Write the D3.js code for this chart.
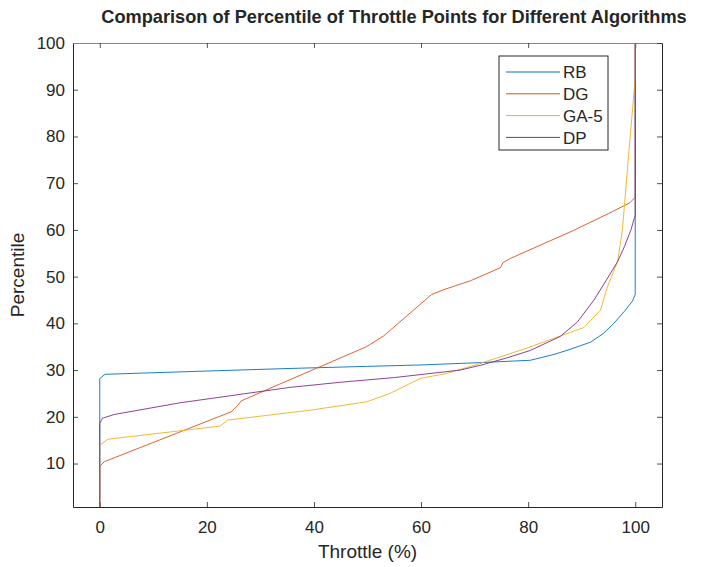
<!DOCTYPE html>
<html>
<head>
<meta charset="utf-8">
<script src="https://cdn.jsdelivr.net/npm/d3@7"></script>
<style>
  body { margin: 0; background: #fff; }
  text { font-family: "Liberation Sans", Arial, sans-serif; fill: #262626; }
</style>
</head>
<body>
<svg id="chart" width="706" height="567"></svg>
<script>
// series: [throttle %, percentile]
var seriesNames = ["RB", "DG", "GA-5", "DP"];
var seriesColors = ["#0072BD", "#D95319", "#EDB120", "#7E2F8E"];

var rbPoints = [
  [0, 0.7], [0, 28.2], [1.0, 29.1], [20, 29.8], [35.5, 30.35], [50, 30.8],
  [60, 31.1], [71, 31.6], [80.4, 32.1], [85, 33.4], [88, 34.5], [91.7, 36],
  [94, 37.8], [96, 40], [98, 42.6], [99.5, 44.8], [100, 46.2], [100, 100]
];
var dgPoints = [
  [0, 0.7], [0, 9.4], [0.85, 10.4], [24.6, 21.1], [25.8, 22.5], [26.4, 23.4],
  [33.6, 27.0], [49.8, 35.0], [53, 37.3], [62, 46.2], [64.2, 47.2], [69.2, 49.1],
  [74.8, 51.9], [75.3, 53.0], [76.7, 53.9], [88.5, 59.9], [95, 63.5], [99, 65.8],
  [100, 67], [100, 100]
];
var gaPoints = [
  [0, 0.7], [0, 13.9], [1.5, 15.2], [22.4, 18.0], [23.9, 19.3], [35.5, 20.9],
  [39.2, 21.4], [49.8, 23.2], [54.2, 25], [59.8, 28.2], [64.8, 29.3], [71, 31.4],
  [80, 34.8], [86, 37.3], [90.4, 39.1], [93.5, 42.8], [94.8, 47.8], [96.7, 53.2],
  [97.6, 60], [99, 79.2], [100, 92.4], [100, 100]
];
var dpPoints = [
  [0, 0.7], [0, 18.6], [0.5, 19.7], [2.7, 20.5], [15, 23.0], [35.5, 26.3],
  [45, 27.4], [55, 28.4], [67.3, 30.0], [71, 31.0], [76, 32.6], [80.4, 34.2],
  [86, 37.2], [89.2, 40.3], [92.3, 45], [94.2, 48.5], [96.7, 53.2], [98, 56.5],
  [99.2, 60], [99.8, 62.4], [100, 63], [100, 100]
];
var allSeries = [rbPoints, dgPoints, gaPoints, dpPoints];

var xTicks = [0, 20, 40, 60, 80, 100];
var yTicks = [10, 20, 30, 40, 50, 60, 70, 80, 90, 100];
var xDomain = [-5, 105];
var yDomain = [0.7, 100];

var titleText = "Comparison of Percentile of Throttle Points for Different Algorithms";
var xLabel = "Throttle (%)";
var yLabel = "Percentile";

var margin = { left: 73, right: 44, top: 43, bottom: 60 };
var width = 706, height = 567;

var svg = d3.select("#chart");

var x = d3.scaleLinear().domain(xDomain).range([margin.left, width - margin.right]);
var y = d3.scaleLinear().domain(yDomain).range([height - margin.bottom, margin.top]);

var axisColor = "#262626";
var tickLen = 5;

// axes (MATLAB style box with inward ticks)
var axBottom = svg.append("g")
  .attr("transform", "translate(0," + y.range()[0] + ")")
  .call(d3.axisBottom(x).tickValues(xTicks).tickSizeInner(-tickLen).tickSizeOuter(0).tickPadding(14));
var axLeft = svg.append("g")
  .attr("transform", "translate(" + x.range()[0] + ",0)")
  .call(d3.axisLeft(y).tickValues(yTicks).tickSizeInner(-tickLen).tickSizeOuter(0).tickPadding(8));
var axTop = svg.append("g")
  .attr("transform", "translate(0," + y.range()[1] + ")")
  .call(d3.axisTop(x).tickValues(xTicks).tickSizeInner(-tickLen).tickSizeOuter(0).tickFormat(""));
var axRight = svg.append("g")
  .attr("transform", "translate(" + x.range()[1] + ",0)")
  .call(d3.axisRight(y).tickValues(yTicks).tickSizeInner(-tickLen).tickSizeOuter(0).tickFormat(""));

[axBottom, axLeft, axTop, axRight].forEach(function (g) {
  g.select(".domain").attr("stroke", axisColor).attr("stroke-width", 1);
  g.selectAll(".tick line").attr("stroke", axisColor).attr("stroke-width", 0.8);
  g.selectAll(".tick text")
    .style("font-family", "'Liberation Sans', Arial, sans-serif")
    .style("font-size", "17px")
    .attr("fill", "#333");
});
axTop.select(".domain").attr("stroke", "#888");

// lines
var line = d3.line()
  .x(function (d) { return x(d[0]); })
  .y(function (d) { return y(d[1]); });

svg.append("g")
  .selectAll("path")
  .data(allSeries)
  .enter()
  .append("path")
  .attr("d", line)
  .attr("fill", "none")
  .attr("stroke", function (d, i) { return seriesColors[i]; })
  .attr("stroke-width", 1)
  .attr("stroke-opacity", 0.9)
  .attr("stroke-linejoin", "round");

// legend
var legend = svg.append("g").attr("transform", "translate(499,56)");
legend.append("rect")
  .attr("width", 109)
  .attr("height", 94)
  .attr("fill", "#fff")
  .attr("stroke", axisColor)
  .attr("stroke-width", 1);
var items = legend.selectAll("g.item")
  .data(seriesNames)
  .enter()
  .append("g")
  .attr("class", "item")
  .attr("transform", function (d, i) { return "translate(0," + (16 + i * 21.8) + ")"; });
items.append("line")
  .attr("x1", 7).attr("x2", 61)
  .attr("stroke", function (d, i) { return seriesColors[i]; })
  .attr("stroke-width", 1);
items.append("text")
  .attr("x", 64)
  .attr("dy", "0.36em")
  .style("font-size", "17px")
  .text(function (d) { return d; });

// title and labels
svg.append("text")
  .attr("x", 394)
  .attr("y", 23)
  .attr("text-anchor", "middle")
  .style("font-size", "18.2px")
  .style("font-weight", "bold")
  .attr("fill", "#000")
  .text(titleText);

svg.append("text")
  .attr("x", (x.range()[0] + x.range()[1]) / 2)
  .attr("y", 558)
  .attr("text-anchor", "middle")
  .style("font-size", "19px")
  .text(xLabel);

svg.append("text")
  .attr("transform", "translate(24," + ((y.range()[0] + y.range()[1]) / 2) + ") rotate(-90)")
  .attr("text-anchor", "middle")
  .style("font-size", "19px")
  .text(yLabel);
</script>
</body>
</html>
